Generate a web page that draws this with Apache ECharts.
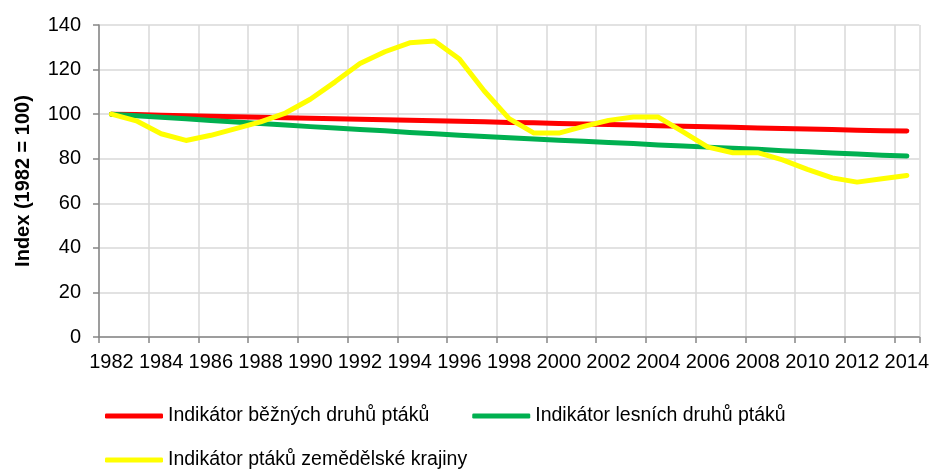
<!DOCTYPE html>
<html>
<head>
<meta charset="utf-8">
<script src="https://cdn.jsdelivr.net/npm/echarts@6/dist/echarts.min.js"></script>
<style>
html,body{margin:0;padding:0;background:#fff;}
#chart{width:932px;height:471px;}
</style>
</head>
<body>
<div id="chart"></div>
<script>
var years = ['1982','1983','1984','1985','1986','1987','1988','1989','1990','1991','1992','1993','1994','1995','1996','1997','1998','1999','2000','2001','2002','2003','2004','2005','2006','2007','2008','2009','2010','2011','2012','2013','2014'];
var seriesNames = ['Indikátor běžných druhů ptáků','Indikátor lesních druhů ptáků','Indikátor ptáků zemědělské krajiny'];
var common = [100,99.8,99.5,99.3,99.1,98.8,98.6,98.4,98.2,97.9,97.7,97.5,97.3,97.0,96.8,96.6,96.3,96.1,95.8,95.6,95.3,95.1,94.8,94.6,94.3,94.1,93.8,93.6,93.3,93.1,92.8,92.6,92.4];
var forest = [100,99.3,98.6,97.9,97.2,96.5,95.8,95.1,94.4,93.8,93.1,92.5,91.8,91.2,90.5,90.0,89.4,88.9,88.3,87.8,87.3,86.8,86.2,85.7,85.2,84.7,84.2,83.6,83.1,82.6,82.1,81.6,81.2];
var farmland = [100,97,91.2,88.2,90.5,93.5,96.5,100.5,106.7,114.5,122.7,128,132,132.8,124.7,110.4,98,91.5,91.5,94.5,97.2,98.7,98.7,92,85.2,82.7,82.7,79.5,75.2,71.4,69.5,71,72.5];
var yTicks = {min:0, max:140, interval:20};
var colors = ['#FF0000','#00B050','#FFFF00'];

var FONT = '"Liberation Sans", Arial, sans-serif';
var chart = echarts.init(document.getElementById('chart'), null, {renderer:'canvas'});
var legendText = {fontFamily: FONT, fontSize: 19.5, color: '#000'};
function mkSeries(name, data, color){
  return {name:name, type:'line', data:data, symbol:'none', smooth:false,
    lineStyle:{color:color, width:5, cap:'round', join:'round'}, itemStyle:{color:color}};
}
chart.setOption({
  animation:false,
  backgroundColor:'#fff',
  grid:{left:99, right:8, top:25, bottom:134, containLabel:false},
  legend:[
    {data:[seriesNames[0], seriesNames[1]], left:100, top:401, itemWidth:58, itemHeight:5, itemGap:43,
     icon:'roundRect', textStyle:legendText},
    {data:[seriesNames[2]], left:100, top:445, itemWidth:58, itemHeight:5,
     icon:'roundRect', textStyle:legendText}
  ],
  xAxis:{type:'category', data:years, boundaryGap:true,
    axisLine:{lineStyle:{color:'#868686', width:1.5}},
    axisTick:{show:true, interval:1, length:6, lineStyle:{color:'#868686', width:1.5}},
    axisLabel:{interval:1, margin:15, color:'#000', fontFamily:FONT, fontSize:20},
    splitLine:{show:true, interval:1, lineStyle:{color:'#D9D9D9', width:1.5}}
  },
  yAxis:{type:'value', min:yTicks.min, max:yTicks.max, interval:yTicks.interval,
    name:'Index (1982 = 100)', nameLocation:'middle', nameGap:66, nameRotate:90,
    nameTextStyle:{fontFamily:FONT, fontSize:20, fontWeight:'bold', color:'#000'},
    axisLine:{show:true, lineStyle:{color:'#868686', width:1.5}},
    axisTick:{show:true, length:6, lineStyle:{color:'#868686', width:1.5}},
    axisLabel:{margin:18, color:'#000', fontFamily:FONT, fontSize:20},
    splitLine:{show:true, lineStyle:{color:'#D9D9D9', width:1.5}}
  },
  series:[mkSeries(seriesNames[0], common, colors[0]), mkSeries(seriesNames[1], forest, colors[1]), mkSeries(seriesNames[2], farmland, colors[2])]
});
</script>
</body>
</html>
